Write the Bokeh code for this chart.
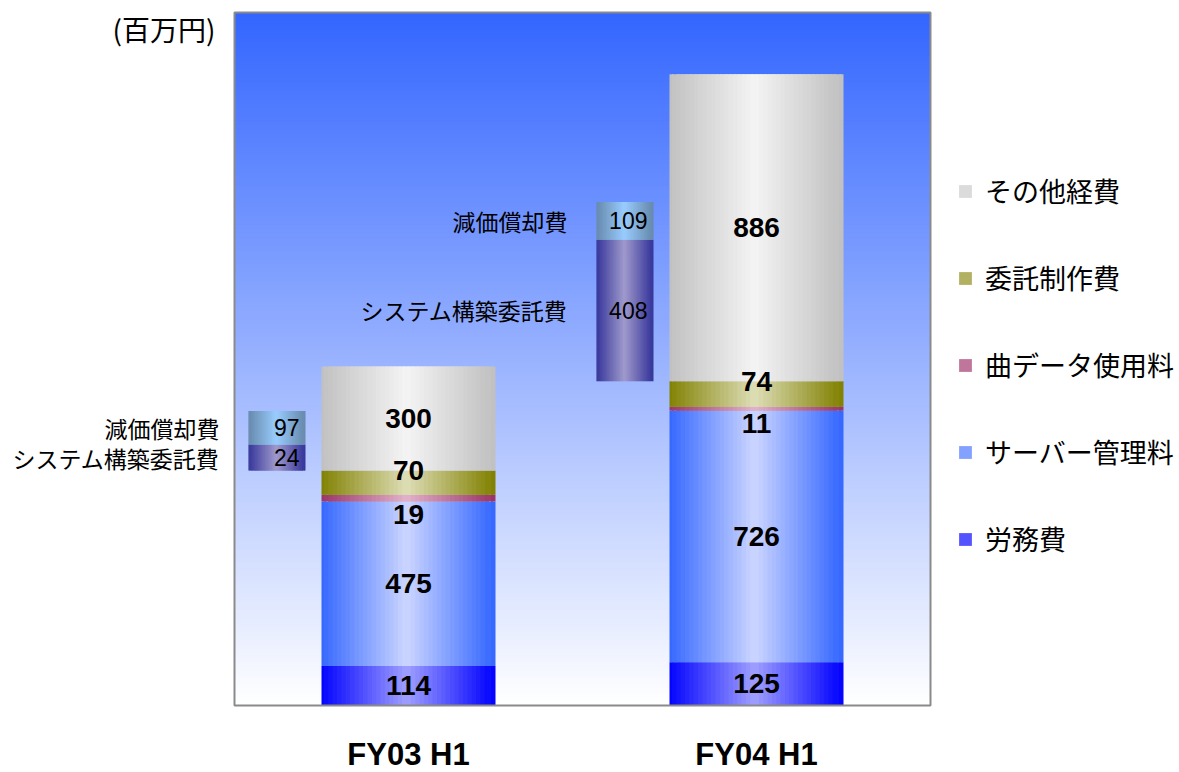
import numpy as np
from bokeh.plotting import figure
from bokeh.models import Range1d, ColumnDataSource, Legend, LegendItem
from bokeh.core.properties import value
from bokeh.embed import file_html
from bokeh.resources import INLINE

# ---------------- data ----------------
periods = ["FY03 H1", "FY04 H1"]
series_names = ["労務費", "サーバー管理料", "曲データ使用料", "委託制作費", "その他経費"]
labor = [114, 125]
server_fee = [475, 726]
music_data_fee = [19, 11]
outsourced_prod = [70, 74]
other_exp = [300, 886]
side_names = ["システム構築委託費", "減価償却費"]
system_build = [24, 408]
depreciation = [97, 109]
unit_text = "(百万円)"
Y_MAX = 2000

# ---------------- style / layout ----------------
W, H = 1179, 772
PX_L, PX_R, PX_T, PX_B = 234, 930, 12, 705   # plot-area box in pixels
grad = {  # (edge, center)
    "労務費": ("#0000ff", "#a0a0ff"),
    "サーバー管理料": ("#3366ff", "#ccd6ff"),
    "曲データ使用料": ("#993366", "#e2b2ca"),
    "委託制作費": ("#808000", "#dedeb8"),
    "その他経費": ("#c0c0c0", "#f4f4f4"),
    "システム構築委託費": ("#333399", "#a09acc"),
    "減価償却費": ("#6688aa", "#99ccff"),
}
CJK = "Noto Sans CJK JP"
NUM = "Liberation Sans"
MAIN_W = 0.5
SIDE_W = 0.164
SIDE_DX = -0.378
SIDE_MIN = 75  # display floor for tiny side segments
NSTRIP = 40

ncat = len(periods)
sx = (PX_R - PX_L) / ncat          # px per x unit
sy = (PX_B - PX_T) / Y_MAX         # px per y unit


def hex2rgb(h):
    h = h.lstrip("#")
    return tuple(int(h[i:i + 2], 16) for i in (0, 2, 4))


def mix(c1, c2, t):
    a, b = hex2rgb(c1), hex2rgb(c2)
    return "#%02x%02x%02x" % tuple(int(round(a[k] + (b[k] - a[k]) * t)) for k in range(3))


p = figure(width=W, height=H,
           x_range=Range1d(-PX_L / sx, ncat + (W - PX_R) / sx),
           y_range=Range1d(-(H - PX_B) / sy, Y_MAX + PX_T / sy),
           output_backend="svg", toolbar_location=None,
           x_axis_location=None, y_axis_location=None,
           min_border=0, min_border_left=0, min_border_right=0,
           min_border_top=0, min_border_bottom=0)
p.grid.visible = False
p.outline_line_color = None
p.background_fill_color = "white"
p.border_fill_color = "white"

# plot-area background: vertical gradient
NB = 160
ys = np.linspace(0, Y_MAX, NB + 1)
step = Y_MAX / NB
bg = dict(bottom=list(ys[:-1]), top=list(np.minimum(ys[1:] + step * 0.8, Y_MAX)),
          left=[0] * NB, right=[ncat] * NB,
          color=[mix("#ffffff", "#3366ff", (ys[i] + ys[i + 1]) / 2 / Y_MAX) for i in range(NB)])
p.quad(left="left", right="right", bottom="bottom", top="top", fill_color="color",
       line_color=None, source=ColumnDataSource(bg))

# gradient bars built from vertical strips, one renderer per series
strips = {}


def add_segment(xc, width, b, t, name):
    d_ = strips.setdefault(name, dict(x=[], w=[], b=[], t=[], c=[]))
    edge, center = grad[name]
    sw = width / NSTRIP
    for k in range(NSTRIP):
        u = (k + 0.5) / NSTRIP
        d = abs(2 * u - 1)
        wk = sw if k in (0, NSTRIP - 1) else sw * 1.9
        d_["x"].append(xc - width / 2 + u * width)
        d_["w"].append(wk)
        d_["b"].append(b)
        d_["t"].append(t)
        d_["c"].append(mix(center, edge, d))


main_vals = [labor, server_fee, music_data_fee, outsourced_prod, other_exp]
lab = dict(x=[], y=[], text=[])
side_lab = dict(x=[], y=[], text=[])
name_lab = dict(x=[], y=[], text=[])

for i, per in enumerate(periods):
    xc = i + 0.5
    base = 0
    for name, vals in zip(series_names, main_vals):
        v = vals[i]
        add_segment(xc, MAIN_W, base, base + v, name)
        if name == "曲データ使用料":
            ly = base - 13 / sy          # label just under the thin slice
        elif name == "委託制作費":
            ly = base + v                # label on the slice's upper edge
        else:
            ly = base + v / 2
        lab["x"].append(xc)
        lab["y"].append(ly)
        lab["text"].append(str(v))
        base += v
    # breakdown bar beside, starting at the base of その他経費
    sbase = base - other_exp[i]
    bx = xc + SIDE_DX
    for name, v in zip(side_names, [system_build[i], depreciation[i]]):
        h = max(v, SIDE_MIN)
        add_segment(bx, SIDE_W, sbase, sbase + h, name)
        side_lab["x"].append(bx + SIDE_W / 2 - 6 / sx)
        side_lab["y"].append(sbase + h / 2)
        side_lab["text"].append(str(v))
        name_lab["x"].append(bx - SIDE_W / 2 - 29 / sx)
        name_lab["y"].append(sbase + h / 2)
        name_lab["text"].append(name)
        sbase += h

renderers = {}
for name, d_ in strips.items():
    renderers[name] = p.vbar(x="x", width="w", bottom="b", top="t", fill_color="c",
                             line_color=None, source=ColumnDataSource(d_))

# plot-area frame
p.quad(left=[0], right=[ncat], bottom=[0], top=[Y_MAX], fill_color=None,
       line_color="#8a8a8a", line_width=2)

p.text(x="x", y="y", text="text", source=ColumnDataSource(lab),
       text_align="center", text_baseline="middle", text_font=value(NUM),
       text_font_style="bold", text_font_size="28px", text_color="black")
p.text(x="x", y="y", text="text", source=ColumnDataSource(side_lab),
       text_align="right", text_baseline="middle", text_font=value(NUM),
       text_font_size="23px", text_color="black")
p.text(x="x", y="y", text="text", source=ColumnDataSource(name_lab),
       text_align="right", text_baseline="middle", text_font=value(CJK),
       text_font_size="23px", text_color="black")

# category labels under the plot area
cat = dict(x=[i + 0.5 for i in range(ncat)], y=[-49 / sy] * ncat, text=periods)
p.text(x="x", y="y", text="text", source=ColumnDataSource(cat),
       text_align="center", text_baseline="middle", text_font=value(NUM),
       text_font_style="bold", text_font_size="31px", text_color="black")

# unit label
p.text(x=[-19 / sx], y=[Y_MAX - 16 / sy], text=[unit_text],
       text_align="right", text_baseline="middle", text_font=value(CJK),
       text_font_size="28px", text_color="black")

# legend (swatch = a mid-tone strip of each series' gradient)
items = [LegendItem(label=name, renderers=[renderers[name]], index=NSTRIP // 4)
         for name in reversed(series_names)]
legend = Legend(items=items, location=(957, H - 558), padding=0, margin=0,
                border_line_color=None, background_fill_alpha=0,
                glyph_width=16, glyph_height=16, label_standoff=12,
                label_height=32, spacing=48,
                label_text_font=CJK, label_text_font_size="27px", label_text_color="black")
p.add_layout(legend)

open("out.html", "w").write(file_html(p, INLINE))
